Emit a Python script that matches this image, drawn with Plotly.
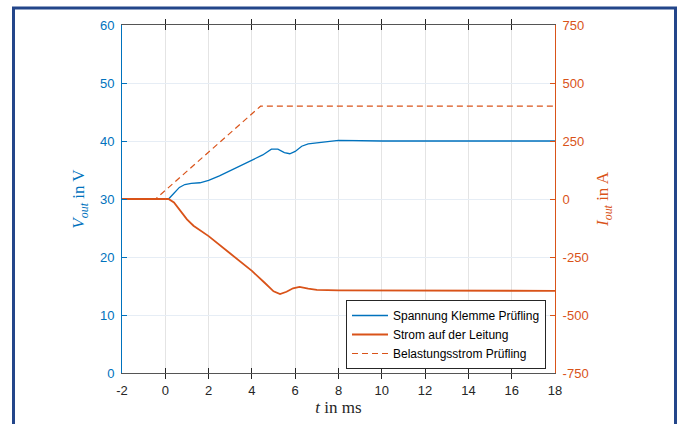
import plotly.graph_objects as go

# ---- data ----
t_v = [-2, 0.15, 0.4, 0.65, 0.9, 1.2, 1.6, 2.0, 2.5, 3.0, 3.5, 4.0, 4.5, 4.9, 5.2,
       5.5, 5.75, 6.0, 6.3, 6.6, 7.0, 7.5, 8.0, 10, 12, 14, 16, 18]
v_out = [30, 30, 31.0, 32.0, 32.5, 32.7, 32.8, 33.2, 34.0, 34.9, 35.7, 36.6, 37.6, 38.6, 38.6,
         38.0, 37.8, 38.2, 39.1, 39.5, 39.7, 39.9, 40.1, 40.0, 40.0, 40.0, 40.0, 40.0]

t_i = [-2, 0.15, 0.4, 0.7, 1.0, 1.3, 1.7, 2.0, 3.0, 4.0, 4.6, 5.0, 5.3, 5.6, 5.9,
       6.2, 6.6, 7.0, 8.0, 10, 12, 14, 16, 18]
i_line = [0, 0, -15, -50, -88, -115, -140, -160, -235, -310, -362, -398, -410, -400, -385,
          -379, -386, -392, -394, -395, -395, -396, -396, -396]

t_load = [-2, -0.45, 4.4, 18]
i_load = [0, 0, 400, 400]

x_ticks = [-2, 0, 2, 4, 6, 8, 10, 12, 14, 16, 18]
v_ticks = [0, 10, 20, 30, 40, 50, 60]
i_ticks = [-750, -500, -250, 0, 250, 500, 750]

names = ["Spannung Klemme Prüfling", "Strom auf der Leitung", "Belastungsstrom Prüfling"]

BLUE = "#0072BD"
ORANGE = "#D95319"
DARK = "#262626"

W, H = 682, 424
L, R, T, B = 122, 555, 25, 373

fig = go.Figure()
fig.add_trace(go.Scatter(x=t_v, y=v_out, mode="lines", name=names[0],
                         line=dict(color=BLUE, width=1.3), yaxis="y"))
fig.add_trace(go.Scatter(x=t_i, y=i_line, mode="lines", name=names[1],
                         line=dict(color=ORANGE, width=1.8), yaxis="y2"))
fig.add_trace(go.Scatter(x=t_load, y=i_load, mode="lines", name=names[2],
                         line=dict(color=ORANGE, width=1.2, dash="6px,4px"), yaxis="y2"))

font_ticks = dict(family="Liberation Sans, Arial, sans-serif", size=13)
serif = "Liberation Serif, Times New Roman, serif"

fig.update_layout(
    width=W, height=H, autosize=False,
    margin=dict(l=0, r=0, t=0, b=0),
    paper_bgcolor="white", plot_bgcolor="white",
    showlegend=True,
    legend=dict(x=546 / W, y=1 - 300 / H, xanchor="right", yanchor="top",
                bgcolor="white", bordercolor=DARK, borderwidth=1,
                font=dict(family="Liberation Sans, Arial, sans-serif", size=12, color="#000000"),
                tracegroupgap=0, itemwidth=36),
    xaxis=dict(domain=[L / W, R / W], range=[-2, 18], tickvals=x_ticks,
               ticktext=[str(v) for v in x_ticks], ticklabelstandoff=5,
               ticks="inside", ticklen=5, tickcolor=DARK, showline=True, linecolor="#555555",
               linewidth=1, mirror="allticks", showgrid=True, gridcolor="#e4e4e4", gridwidth=1,
               zeroline=False, tickfont=dict(color=DARK, **font_ticks), automargin=False,
               title=dict(text="<i>t</i> in ms", standoff=4,
                          font=dict(family=serif, size=17, color=DARK))),
    yaxis=dict(domain=[1 - B / H, 1 - T / H], range=[0, 60], tickvals=v_ticks,
               ticktext=[str(v) for v in v_ticks], ticklabelstandoff=4,
               ticks="inside", ticklen=5, tickcolor=BLUE, showline=True, linecolor=BLUE,
               linewidth=1, showgrid=True, gridcolor="#e6edf5", gridwidth=1, zeroline=False,
               tickfont=dict(color=BLUE, **font_ticks), automargin=False,
               title=dict(text="<i>V</i><sub><i>out</i></sub> in V", standoff=10,
                          font=dict(family=serif, size=17, color=BLUE))),
    yaxis2=dict(overlaying="y", side="right", anchor="x", range=[-750, 750], tickvals=i_ticks,
                ticktext=[str(v) for v in i_ticks], ticklabelstandoff=4,
                ticks="inside", ticklen=5, tickcolor=ORANGE, showline=True, linecolor=ORANGE,
                linewidth=1, showgrid=False, zeroline=False,
                tickfont=dict(color=ORANGE, **font_ticks), automargin=False,
                title=dict(text="<i>I</i><sub><i>out</i></sub> in A", standoff=8,
                           font=dict(family=serif, size=17, color=ORANGE))),
    shapes=[dict(type="rect", xref="paper", yref="paper",
                 x0=13.5 / W, x1=675.5 / W, y0=-0.2, y1=1 - 8 / H,
                 line=dict(color="#23468a", width=3), fillcolor="rgba(0,0,0,0)", layer="below")],
)

fig.write_html("out.html")
